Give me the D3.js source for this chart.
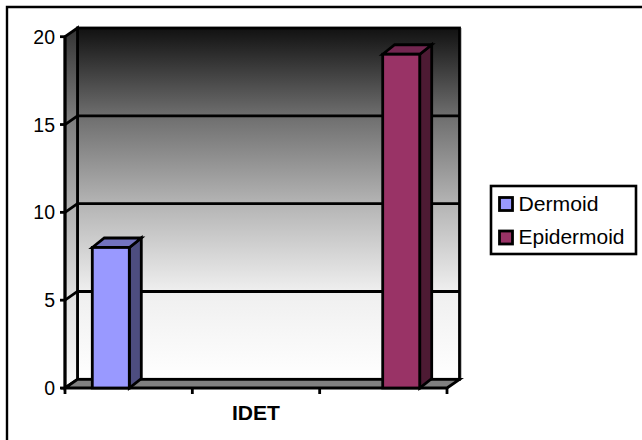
<!DOCTYPE html>
<html>
<head>
<meta charset="utf-8">
<script src="https://cdn.jsdelivr.net/npm/d3@7"></script>
<style>
html,body{margin:0;padding:0;background:#fff}
svg{display:block}
text{font-family:"Liberation Sans",Arial,sans-serif;fill:#000}
</style>
</head>
<body>
<svg id="chart" width="642" height="440"></svg>
<script>
const seriesNames = ["Dermoid", "Epidermoid"];
const seriesValues = [8, 19];
const seriesFront = ["#9999ff", "#993366"];
const seriesTop = ["#7373bf", "#732650"];
const seriesSide = ["#4d4d80", "#4d1a33"];
const categoryLabel = "IDET";
const yTicks = [0, 5, 10, 15, 20];
const xTickSlots = [0, 1, 2, 3];

const svg = d3.select("#chart");
const dx = 12.5, dy = -8.7;
const barDx = 12, barDy = -9.5;
const barWidth = 37;
const lineWidth = 2.8;

const y = d3.scaleLinear().domain([0, 20]).range([388, 36.7]);
const xSlot = d3.scaleLinear().domain([0, 3]).range([65, 447]);
const xBar = d3.scalePoint().domain(seriesNames).range([92.3, 382.7]);
const [x0, x1] = xSlot.range();

// Outer chart frame: only the top and left edges fall on the canvas
svg.append("path")
  .attr("d", "M7,440V7H642")
  .attr("fill", "none").attr("stroke", "#000").attr("stroke-width", 2.4);

const defs = svg.append("defs");
function ramp(id, stops) {
  const g = defs.append("linearGradient").attr("id", id)
    .attr("x1", 0).attr("y1", 0).attr("x2", 0).attr("y2", 1);
  stops.forEach(([o, c]) => g.append("stop").attr("offset", o).attr("stop-color", c));
}
ramp("backWall", [[0, "#111111"], [0.25, "#6e6e6e"], [0.5, "#b4b4b4"], [0.75, "#efefef"], [1, "#ffffff"]]);
ramp("sideWall", [[0, "#333333"], [0.25, "#7d7d7d"], [0.5, "#b0b0b0"], [0.75, "#e0e0e0"], [1, "#fafafa"]]);

const line = d3.line();
const layer = svg.append("g")
  .attr("stroke", "#000").attr("stroke-linejoin", "miter").attr("stroke-width", lineWidth);

// Soft edge along the right of the back wall
layer.append("line")
  .attr("x1", x1 + dx + 1.6).attr("x2", x1 + dx + 1.6)
  .attr("y1", y(20) + dy).attr("y2", y(0) + dy)
  .attr("stroke", "#9a9a9a").attr("stroke-width", 1);

// Back and side walls
layer.append("rect")
  .attr("x", x0 + dx).attr("y", y(20) + dy)
  .attr("width", x1 - x0).attr("height", y(0) - y(20))
  .attr("fill", "url(#backWall)");
layer.append("path")
  .attr("d", line([[x0, y(20)], [x0 + dx, y(20) + dy], [x0 + dx, y(0) + dy], [x0, y(0)]]) + "Z")
  .attr("fill", "url(#sideWall)");

// Floor
layer.append("path")
  .attr("d", line([[x0, y(0)], [x0 + dx, y(0) + dy], [x1 + dx, y(0) + dy], [x1, y(0)]]) + "Z")
  .attr("fill", "#808080");

// Gridlines wrapping from the side wall onto the back wall
layer.selectAll(".grid").data(yTicks.filter(t => t > 0 && t < 20)).join("path")
  .attr("class", "grid").attr("fill", "none")
  .attr("d", t => line([[x0, y(t)], [x0 + dx, y(t) + dy], [x1 + dx, y(t) + dy]]));

// Value axis with ticks and labels
layer.append("line")
  .attr("x1", x0).attr("x2", x0).attr("y1", y(20)).attr("y2", y(0));
layer.selectAll(".ytick").data(yTicks).join("line")
  .attr("class", "ytick")
  .attr("x1", x0 - 5).attr("x2", x0)
  .attr("y1", d => y(d)).attr("y2", d => y(d));
svg.selectAll(".ylabel").data(yTicks).join("text")
  .attr("class", "ylabel")
  .attr("x", x0 - 10).attr("y", d => y(d) + 7)
  .attr("text-anchor", "end").attr("font-size", 19.5)
  .text(d => d);

// Category axis
layer.selectAll(".xtick").data(xTickSlots).join("line")
  .attr("class", "xtick")
  .attr("x1", d => xSlot(d)).attr("x2", d => xSlot(d))
  .attr("y1", y(0)).attr("y2", y(0) + 6);
svg.append("text")
  .attr("x", (x0 + x1) / 2).attr("y", 420)
  .attr("text-anchor", "middle").attr("font-size", 20.5).attr("font-weight", "bold")
  .attr("textLength", 48).attr("lengthAdjust", "spacingAndGlyphs")
  .text(categoryLabel);

// Bars: front, top and side faces
const bars = layer.selectAll(".bar").data(seriesNames).join("g").attr("class", "bar");
bars.each(function (name, i) {
  const g = d3.select(this);
  const l = xBar(name), r = l + barWidth;
  const t = y(seriesValues[i]), b = y(0);
  g.append("path")
    .attr("d", line([[r, t], [r + barDx, t + barDy], [r + barDx, b + barDy], [r, b]]) + "Z")
    .attr("fill", seriesSide[i]);
  g.append("path")
    .attr("d", line([[l, t], [l + barDx, t + barDy], [r + barDx, t + barDy], [r, t]]) + "Z")
    .attr("fill", seriesTop[i]);
  g.append("rect")
    .attr("x", l).attr("y", t).attr("width", barWidth).attr("height", b - t)
    .attr("fill", seriesFront[i]);
});

// Legend
const legendTextWidths = [80, 106];
const legend = svg.append("g");
legend.append("rect")
  .attr("x", 491).attr("y", 186).attr("width", 145).attr("height", 68)
  .attr("fill", "#fff").attr("stroke", "#000").attr("stroke-width", 2.6);
const rows = legend.selectAll(".row").data(seriesNames).join("g")
  .attr("class", "row")
  .attr("transform", (d, i) => `translate(0,${204 + i * 33.5})`);
rows.append("rect")
  .attr("x", 499.5).attr("y", -6.5).attr("width", 13).attr("height", 13)
  .attr("fill", (d, i) => seriesFront[i])
  .attr("stroke", "#000").attr("stroke-width", 2.8);
rows.append("text")
  .attr("x", 518.5).attr("y", 6.5).attr("font-size", 19.5)
  .attr("textLength", (d, i) => legendTextWidths[i])
  .attr("lengthAdjust", "spacingAndGlyphs")
  .text(d => d);
</script>
</body>
</html>
